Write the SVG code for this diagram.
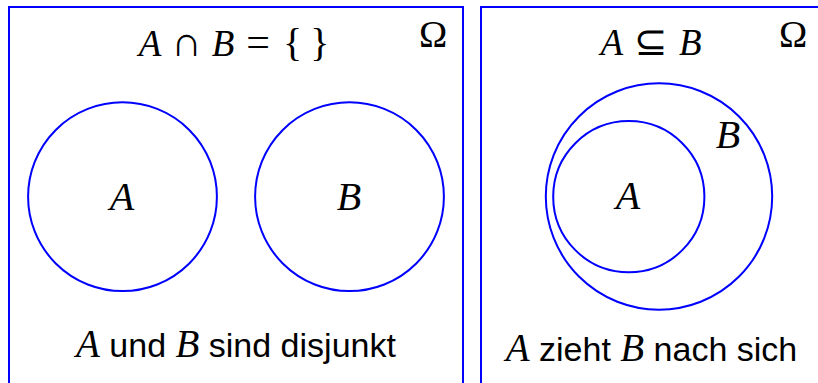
<svg xmlns="http://www.w3.org/2000/svg" width="818" height="383" viewBox="0 0 818 383">
<style>
.box{fill:none;stroke:#0000ff;stroke-width:2}
.set{fill:none;stroke:#0000ff;stroke-width:2}
.m{font-family:"Liberation Serif",serif;fill:#000}
.i{font-style:italic}
.s{font-family:"Liberation Sans",Arial,sans-serif;fill:#000;font-size:34px}
</style>
<rect width="818" height="383" fill="#fff"/>
<g id="panel-left">
<rect class="box" x="9" y="7" width="454" height="420"/>
<text class="m" x="234" y="56" font-size="37" text-anchor="middle"><tspan class="i">A</tspan><tspan dx="10" font-size="42">∩</tspan><tspan class="i" dx="10">B</tspan><tspan dx="12" font-size="42">=</tspan><tspan dx="13" font-size="40">{</tspan><tspan dx="8" font-size="40">}</tspan></text>
<text class="m" x="433" y="47" font-size="38" text-anchor="middle">Ω</text>
<g id="setA1"><circle class="set" cx="122.5" cy="196.7" r="94.4"/><text class="m i" x="122" y="210" font-size="40" text-anchor="middle">A</text></g>
<g id="setB1"><circle class="set" cx="349.5" cy="196.7" r="94.4"/><text class="m i" x="349" y="210" font-size="40" text-anchor="middle">B</text></g>
<text class="s" x="236" y="357" text-anchor="middle"><tspan class="m i" font-size="39">A</tspan> und <tspan class="m i" font-size="39">B</tspan> sind disjunkt</text>
</g>
<g id="panel-right">
<rect class="box" x="481" y="7" width="454" height="420"/>
<text class="m" x="651" y="55" font-size="37" text-anchor="middle"><tspan class="i">A</tspan><tspan dx="11" font-size="40">⊆</tspan><tspan class="i" dx="11">B</tspan></text>
<text class="m" x="793" y="47" font-size="38" text-anchor="middle">Ω</text>
<g id="setB2"><circle class="set" cx="659" cy="196.5" r="113.2"/><text class="m i" x="728" y="148" font-size="40" text-anchor="middle">B</text></g>
<g id="setA2"><circle class="set" cx="628.8" cy="196.7" r="75.6"/><text class="m i" x="628" y="209" font-size="40" text-anchor="middle">A</text></g>
<text class="s" x="651.5" y="361" text-anchor="middle"><tspan class="m i" font-size="39">A</tspan> zieht <tspan class="m i" font-size="39">B</tspan> nach sich</text>
</g>
<g id="connectors"/>
</svg>
